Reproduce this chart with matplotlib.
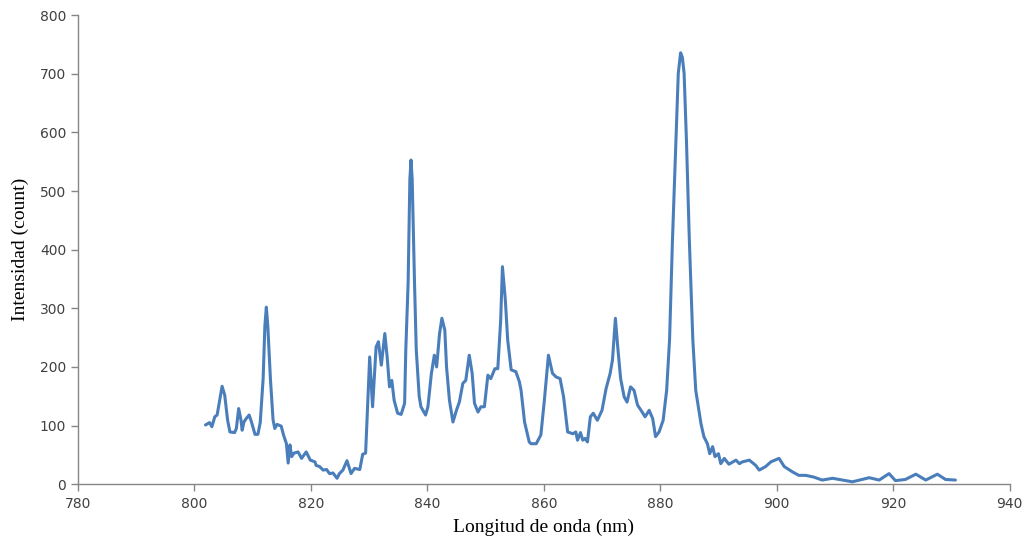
import matplotlib
matplotlib.use("Agg")
import matplotlib.pyplot as plt

wavelength = [801.9, 802.6, 803.0, 803.5, 803.9, 804.75, 805.2, 805.7, 806.1, 806.9,
              807.2, 807.6, 808.0, 808.2, 808.5, 808.9, 809.4, 809.8, 810.4, 810.9,
              811.3, 811.8, 812.1, 812.35, 812.6, 813.05, 813.5, 813.8, 814.2, 814.9,
              815.3, 815.8, 816.1, 816.4, 816.7, 817.1, 817.8, 818.4, 819.2, 819.9,
              820.7, 820.9, 821.5, 822.1, 822.7, 823.2, 823.8, 824.5, 824.9, 825.5,
              826.2, 826.9, 827.5, 828.4, 828.9, 829.4, 830.1, 830.6, 831.2, 831.6,
              832.1, 832.7, 833.1, 833.5, 833.9, 834.3, 834.9, 835.5, 836.1, 836.3,
              836.7, 837.0, 837.2, 837.4, 837.8, 838.1, 838.6, 838.9, 839.7, 840.1,
              840.7, 841.2, 841.6, 842.1, 842.5, 843.0, 843.3, 843.8, 844.4, 845.0,
              845.5, 846.1, 846.6, 847.2, 847.7, 848.1, 848.7, 849.2, 849.8, 850.4,
              850.9, 851.6, 852.1, 852.6, 852.9, 853.4, 853.8, 854.4, 855.2, 855.8,
              856.1, 856.7, 857.5, 857.8, 858.7, 859.5, 860.1, 860.8, 861.5, 862.1,
              862.8, 863.4, 864.1, 865.0, 865.5, 865.8, 866.3, 866.7, 867.1, 867.5,
              868.0, 868.5, 869.2, 870.0, 870.7, 871.4, 871.8, 872.3, 872.7, 873.2,
              873.8, 874.3, 874.9, 875.5, 876.1, 876.7, 877.4, 878.1, 878.7, 879.2,
              879.8, 880.5, 881.1, 881.6, 882.1, 882.7, 883.1, 883.5, 883.8, 884.1,
              884.5, 885.0, 885.6, 886.1, 887.0, 887.5, 887.8, 888.1, 888.5, 889.0,
              889.4, 890.0, 890.4, 891.0, 891.8, 893.0, 893.6, 894.1, 895.3, 896.4,
              897.0, 898.1, 899.0, 900.4, 901.3, 902.7, 903.8, 905.0, 906.4, 907.8,
              909.6, 911.3, 913.0, 914.7, 915.9, 917.6, 919.3, 920.4, 922.1, 923.9,
              925.6, 927.6, 929.0, 930.7]

intensity = [101, 105, 98, 115, 118, 167, 152, 109, 89, 88,
             95, 129, 109, 92, 106, 112, 118, 106, 85, 85,
             105, 180, 270, 302, 270, 180, 110, 95, 102, 99,
             84, 69, 36, 67, 47, 53, 55, 44, 55, 41,
             38, 32, 30, 24, 25, 18, 19, 10, 18, 24,
             40, 18, 27, 25, 51, 53, 217, 132, 234, 243,
             203, 257, 217, 166, 177, 143, 121, 119, 138, 229,
             343, 520, 553, 520, 343, 229, 150, 132, 118, 132,
             189, 220, 200, 257, 283, 263, 200, 143, 106, 126,
             140, 172, 177, 220, 189, 138, 123, 132, 132, 186,
             180, 197, 197, 280, 371, 314, 246, 195, 192, 175,
             160, 106, 72, 69, 69, 84, 143, 220, 189, 183,
             180, 149, 89, 86, 89, 75, 88, 75, 78, 72,
             115, 121, 109, 126, 163, 189, 212, 283, 234, 180,
             149, 140, 166, 160, 135, 126, 115, 126, 112, 81,
             89, 109, 160, 246, 416, 587, 701, 736, 728, 701,
             587, 416, 246, 160, 103, 81, 75, 69, 52, 64,
             47, 52, 35, 44, 34, 41, 35, 38, 41, 32,
             24, 30, 38, 44, 30, 21, 15, 15, 12, 7,
             10, 7, 4, 8, 11, 7, 18, 6, 8, 17,
             7, 17, 8, 7]

x_ticks = [780, 800, 820, 840, 860, 880, 900, 920, 940]
y_ticks = [0, 100, 200, 300, 400, 500, 600, 700, 800]
x_label = "Longitud de onda (nm)"
y_label = "Intensidad (count)"

fig = plt.figure(figsize=(10.26, 5.44), dpi=100)
ax = fig.add_axes([0.076, 0.110, 0.908, 0.862])

ax.plot(wavelength, intensity, color="#4A7EBB", linewidth=2.2,
        solid_joinstyle="round", solid_capstyle="round")

ax.set_xlim(780, 940)
ax.set_ylim(0, 800)
ax.set_xticks(x_ticks)
ax.set_yticks(y_ticks)

for s in ["top", "right"]:
    ax.spines[s].set_visible(False)
for s in ["left", "bottom"]:
    ax.spines[s].set_color("#868686")
    ax.spines[s].set_linewidth(1.0)

ax.tick_params(axis="both", direction="out", length=5, width=1.0, color="#868686",
               labelsize=10, labelcolor="#404040")
ax.tick_params(axis="x", pad=4)
for lbl in ax.get_xticklabels() + ax.get_yticklabels():
    lbl.set_fontfamily("DejaVu Sans")

ax.set_xlabel(x_label, fontfamily="Liberation Serif", fontsize=14, color="black", labelpad=6)
ax.set_ylabel(y_label, fontfamily="Liberation Serif", fontsize=14, color="black", labelpad=8)

fig.savefig("out.png", dpi=100)
